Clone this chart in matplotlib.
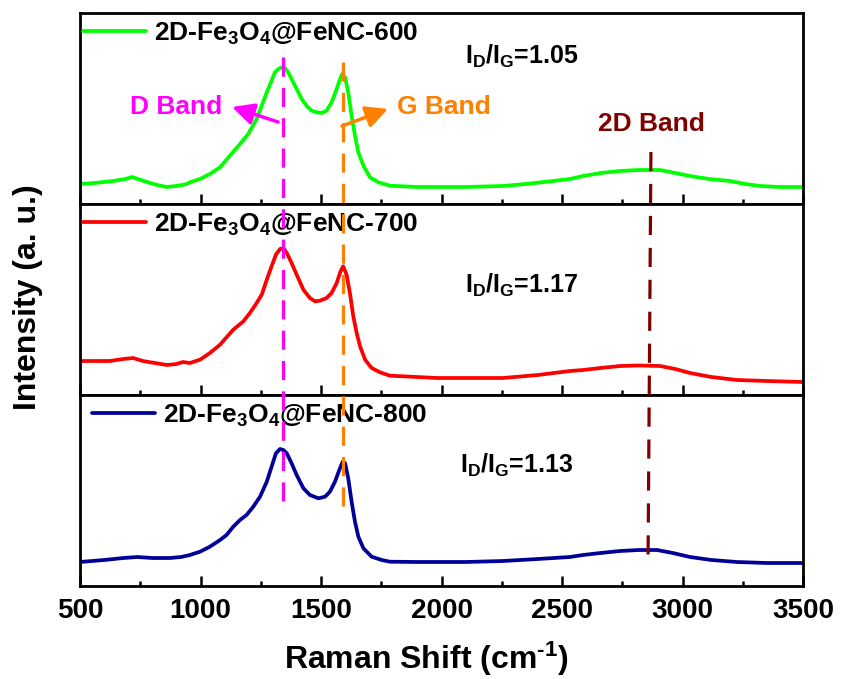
import matplotlib
matplotlib.use("Agg")
import matplotlib.pyplot as plt
from matplotlib.lines import Line2D
from matplotlib.ticker import MultipleLocator
import matplotlib.transforms as mtransforms

plt.rcParams['font.family'] = ['Liberation Sans', 'DejaVu Sans']
plt.rcParams['mathtext.fontset'] = 'custom'
plt.rcParams['mathtext.rm'] = 'Liberation Sans:bold'
plt.rcParams['mathtext.bf'] = 'Liberation Sans:bold'
plt.rcParams['mathtext.it'] = 'Liberation Sans:bold'
plt.rcParams['mathtext.default'] = 'rm'

# Raman spectra (wavenumber in cm^-1, intensity in a.u.)
x_600 = [500, 560, 637, 690, 716, 740, 778, 820, 861, 900, 944, 956, 998, 1039, 1081,
         1122, 1164, 1198, 1233, 1254, 1275, 1295, 1309, 1323, 1337, 1351, 1364, 1378,
         1399, 1420, 1440, 1461, 1482, 1503, 1523, 1544, 1565, 1579, 1588, 1600, 1613,
         1627, 1641, 1655, 1676, 1703, 1738, 1786, 1900, 2000, 2100, 2255, 2350, 2463,
         2533, 2587, 2660, 2741, 2820, 2907, 2970, 3031, 3110, 3197, 3260, 3322, 3400, 3496]
i_600 = [20, 21, 23, 25, 27, 25, 22, 19, 17, 18, 20, 21.7, 25, 30, 36.7,
         48.3, 60, 70, 85, 98.3, 111.7, 123.3, 131.7, 135, 136.7, 135.7, 131.7, 125,
         115, 105, 98.3, 93.3, 91.7, 91, 93.3, 101.7, 115, 125, 130, 126.7, 111.7,
         88.3, 68.3, 51.7, 38.3, 26.7, 21.7, 18.3, 17, 17, 17, 18, 20, 23,
         25, 28, 31, 33, 34, 34, 31, 28, 25, 23, 20, 18, 17, 17]

x_700 = [500, 560, 624, 680, 720, 761, 810, 861, 900, 927, 956, 998, 1039, 1081, 1136,
         1178, 1205, 1233, 1254, 1275, 1295, 1313, 1330, 1344, 1358, 1378, 1399, 1427,
         1454, 1475, 1496, 1523, 1544, 1565, 1581, 1592, 1606, 1620, 1634, 1648, 1662,
         1683, 1710, 1745, 1786, 1900, 1981, 2100, 2255, 2400, 2533, 2587, 2660, 2741,
         2820, 2907, 2970, 3031, 3120, 3226, 3350, 3496]
i_700 = [34, 34, 34, 36, 37, 34, 32, 30, 31, 33, 32, 35.3, 42, 50.3, 65.3,
         73.7, 82, 92, 100.3, 115.3, 128.7, 140.3, 146, 147, 142, 132, 120.3, 105.3,
         97, 93.7, 94.3, 97, 102, 112, 123.7, 128.7, 120.3, 102, 78.7, 62, 48.7,
         35.3, 27, 22.7, 19.3, 18, 17, 17, 17, 20, 24, 25, 27, 29,
         29.5, 29, 26, 22, 18, 15, 14, 13]

x_800 = [500, 600, 680, 737, 800, 873, 920, 956, 998, 1039, 1081, 1108, 1136, 1164,
         1191, 1219, 1247, 1275, 1295, 1313, 1330, 1344, 1358, 1378, 1399, 1427, 1454,
         1489, 1517, 1537, 1558, 1576, 1590, 1600, 1613, 1627, 1641, 1655, 1676, 1710,
         1752, 1786, 1900, 1981, 2100, 2255, 2400, 2533, 2587, 2660, 2741, 2820, 2894,
         2960, 3031, 3120, 3226, 3350, 3496]
i_800 = [24, 26, 28, 29, 28, 28, 29, 31, 34.3, 39.3, 46, 51, 59.3, 66,
         71, 79.3, 89.3, 104.3, 119.3, 132.7, 137, 136, 132.7, 122.7, 111, 97.7, 91,
         87.7, 89.3, 94.3, 104.3, 116, 124.3, 122.7, 107.7, 84.3, 64.3, 49.3, 37.7, 29.3,
         26, 24.3, 24, 24, 24, 25, 27, 29, 31, 33, 35, 36, 36,
         33, 29, 26, 24, 23, 23]

labels = ['2D-Fe$_3$O$_4$@FeNC-600', '2D-Fe$_3$O$_4$@FeNC-700', '2D-Fe$_3$O$_4$@FeNC-800']
colors = ['#00ff00', '#ff0000', '#000099']
ratios = ['1.05', '1.17', '1.13']

# band positions (cm^-1)
d_band = 1342
g_band = 1590
band_2d_top, band_2d_bottom = 2869, 2857

fig = plt.figure(figsize=(8.43, 6.79), dpi=100)
left, right = 80 / 843, 803 / 843
top_px, bot_px = 13, 586
h = (bot_px - top_px) / 3 / 679
axes = []
for k in range(3):
    b = 1 - (top_px / 679) - (k + 1) * h
    axes.append(fig.add_axes([left, b, right - left, h]))

series = [(x_600, i_600), (x_700, i_700), (x_800, i_800)]
legend_anchor = [(0.004, 0.96), (0.004, 0.96), (0.016, 0.96)]
ratio_pos = [(2098, 140), (2098, 102), (2077, 113)]

for k, ax in enumerate(axes):
    xs, ys = series[k]
    ax.plot(xs, ys, color=colors[k], lw=2.7, label=labels[k],
            solid_joinstyle='round', solid_capstyle='round')
    ax.set_xlim(500, 3500)
    ax.set_ylim(0, 191)
    ax.set_yticks([])
    ax.xaxis.set_major_locator(MultipleLocator(500))
    ax.xaxis.set_minor_locator(MultipleLocator(250))
    ax.tick_params(axis='x', which='major', direction='in', length=7, width=1.8,
                   top=False, bottom=True, pad=9)
    ax.tick_params(axis='x', which='minor', direction='in', length=3.5, width=1.8,
                   top=False, bottom=True)
    for sp in ax.spines.values():
        sp.set_linewidth(2.0)
    if k < 2:
        ax.tick_params(axis='x', labelbottom=False)
    ax.legend(loc='upper left', bbox_to_anchor=legend_anchor[k], frameon=False,
              prop={'weight': 'bold', 'size': 19}, handlelength=2.4,
              handletextpad=0.3, borderpad=0, borderaxespad=0)
    rx, ry = ratio_pos[k]
    ax.text(rx, ry, r'I$_\mathregular{D}$/I$_\mathregular{G}$=' + ratios[k],
            fontsize=18, fontweight='bold', va='baseline', ha='left')

bottom = axes[2]
for lab in bottom.get_xticklabels():
    lab.set_fontweight('bold')
    lab.set_fontsize(20)
bottom.set_xlabel(r'Raman Shift (cm$^{\text{-1}}$)', fontsize=23, fontweight='bold')
bottom.xaxis.set_label_coords(0.479, -0.28)

fig.text(28 / 843, 1 - 297 / 679, 'Intensity (a. u.)', rotation=90, fontsize=23,
         fontweight='bold', ha='center', va='center')

# band guide lines spanning all panels
trans = mtransforms.blended_transform_factory(axes[0].transData, fig.transFigure)
fig.lines.append(Line2D([d_band, d_band], [1 - 57 / 679, 1 - 509 / 679], transform=trans,
                        color='#ff00ff', lw=2.3, linestyle=(0, (6, 3.5))))
fig.lines.append(Line2D([g_band, g_band], [1 - 62 / 679, 1 - 513 / 679], transform=trans,
                        color='#ff8000', lw=2.3, linestyle=(0, (6, 3.5))))
fig.lines.append(Line2D([band_2d_top, band_2d_bottom], [1 - 152 / 679, 1 - 562 / 679],
                        transform=trans, color='#800000', lw=2.3, linestyle=(0, (6, 4))))

ax0 = axes[0]
ax0.text(707, 97, 'D Band', color='#ff00ff', fontsize=19, fontweight='bold',
         ha='left', va='center')
ax0.text(1815, 97, 'G Band', color='#ff8000', fontsize=19, fontweight='bold',
         ha='left', va='center')
ax0.text(2649, 80, '2D Band', color='#800000', fontsize=19, fontweight='bold',
         ha='left', va='center')
arrow_style = '-|>,head_length=0.6,head_width=0.3'
ax0.annotate('', xy=(1131, 97), xytext=(1322, 82),
             arrowprops=dict(arrowstyle=arrow_style, color='#ff00ff',
                             lw=2.5, mutation_scale=22, shrinkA=0, shrinkB=0))
ax0.annotate('', xy=(1778, 95), xytext=(1587, 78),
             arrowprops=dict(arrowstyle=arrow_style, color='#ff8000',
                             lw=2.5, mutation_scale=22, shrinkA=0, shrinkB=0))

fig.savefig('out.png', dpi=100)
